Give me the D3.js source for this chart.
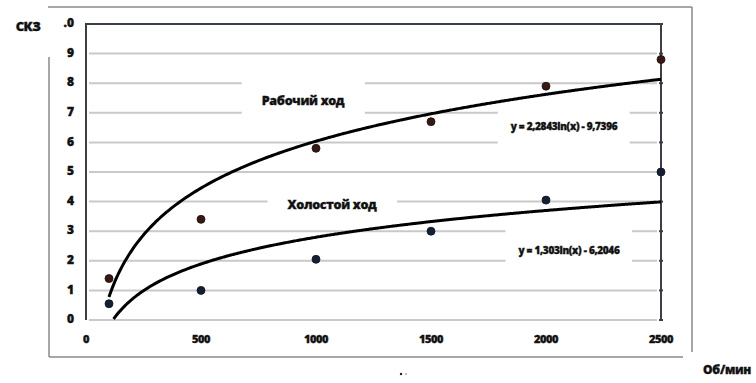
<!DOCTYPE html>
<html>
<head>
<meta charset="utf-8">
<script src="https://cdn.jsdelivr.net/npm/d3@7"></script>
<style>
  body { margin: 0; background: #fff; }
  svg { display: block; }
  text { font-family: "Open Sans", "DejaVu Sans", sans-serif; font-weight: 800; fill: #111; stroke: #111; stroke-width: 0.35px; }
</style>
</head>
<body>
<svg id="chart" width="756" height="383"></svg>
<script>

// measured points (Об/мин -> СКЗ)
var rpm = [100, 500, 1000, 1500, 2000, 2500];
var workValues = [1.4, 3.4, 5.8, 6.7, 7.9, 8.8];
var idleValues = [0.55, 1.0, 2.05, 3.0, 4.05, 5.0];

// log trendlines as printed on the chart: y = a*ln(x) + b
var workTrend = [2.2843, -9.7396];
var idleTrend = [1.303, -6.2046];

var xTicks = [0, 500, 1000, 1500, 2000, 2500];
var yTicks = [0, 1, 2, 3, 4, 5, 6, 7, 8, 9, 10];
var yTickLabels = ["0", "1", "2", "3", "4", "5", "6", "7", "8", "9", ".0"];

var svg = d3.select("#chart");
var margin = {left: 86, right: 95, top: 24, bottom: 63};
var width = 756 - margin.left - margin.right,
    height = 383 - margin.top - margin.bottom;

var x = d3.scaleLinear().domain([0, 2500]).range([margin.left, margin.left + width]);
var y = d3.scaleLinear().domain([0, 10]).range([margin.top + height, margin.top]);

// outer frame
var frame = svg.append("g").attr("stroke", "#8a8a8a").attr("stroke-width", 1.5);
frame.append("line").attr("x1", 48).attr("x2", 692).attr("y1", 7).attr("y2", 7);
frame.append("line").attr("x1", 692).attr("x2", 692).attr("y1", 7).attr("y2", 352);
frame.append("line").attr("x1", 49).attr("x2", 49).attr("y1", 57).attr("y2", 357);
frame.append("line").attr("x1", 49).attr("x2", 683).attr("y1", 357).attr("y2", 357);

// gridlines
svg.append("g")
    .selectAll("line")
    .data(yTicks.slice(0, -1))
    .join("line")
        .attr("x1", x(0) + 3)
        .attr("x2", x(2500) - 4)
        .attr("y1", d => y(d))
        .attr("y2", d => y(d))
        .attr("stroke", "#c9c9c9")
        .attr("stroke-width", 2);

// white boxes behind the in-plot labels
function label(txt, cx, cy, size, padW) {
    var t = svg.append("text")
        .attr("x", cx).attr("y", cy)
        .attr("text-anchor", "middle")
        .attr("dominant-baseline", "middle")
        .attr("font-size", size)
        .attr("letter-spacing", "-0.3")
        .text(txt);
    var bb = t.node().getBBox();
    svg.insert("rect", "text")
        .attr("x", bb.x - padW).attr("y", bb.y - 14)
        .attr("width", bb.width + 2 * padW).attr("height", bb.height + 28)
        .attr("fill", "#fff");
}

// plot box (left, top, right)
var box = svg.append("g").attr("stroke", "#3a3f47").attr("stroke-width", 2).attr("fill", "none");
box.append("path")
    .attr("d", "M" + x(0) + "," + y(0) + "V" + y(10) + "H" + x(2500) + "V" + y(0));
box.selectAll(".rt")
    .data(yTicks)
    .join("line")
        .attr("x1", x(2500) - 2).attr("x2", x(2500) + 2)
        .attr("y1", d => y(d)).attr("y2", d => y(d));

// trendlines
function trendPts(c, xmin) {
    var pts = [];
    for (var v = xmin; v <= 2500; v += 10) {
        var yy = c[0] * Math.log(v) + c[1];
        if (yy >= 0) pts.push([v, yy]);
    }
    return pts;
}
var line = d3.line().x(d => x(d[0])).y(d => y(d[1])).curve(d3.curveMonotoneX);

label("Рабочий ход", 303, 102, 12.5, 20);
label("Холостой ход", 332, 206, 12.5, 20);
label("y = 2,2843ln(x) - 9,7396", 564, 127, 10, 12);
label("y = 1,303ln(x) - 6,2046", 569, 251, 10, 12);

svg.append("path")
    .datum(trendPts(workTrend, 100))
    .attr("d", line)
    .attr("fill", "none").attr("stroke", "#000").attr("stroke-width", 3);
svg.append("path")
    .datum(trendPts(idleTrend, 100))
    .attr("d", line)
    .attr("fill", "none").attr("stroke", "#000").attr("stroke-width", 3);

// points
svg.append("g")
    .selectAll("circle")
    .data(d3.zip(rpm, workValues))
    .join("circle")
        .attr("cx", d => x(d[0])).attr("cy", d => y(d[1]))
        .attr("r", 4).attr("fill", "#3b1710").attr("stroke", "#111").attr("stroke-width", 0.8);
svg.append("g")
    .selectAll("circle")
    .data(d3.zip(rpm, idleValues))
    .join("circle")
        .attr("cx", d => x(d[0])).attr("cy", d => y(d[1]))
        .attr("r", 4).attr("fill", "#112036").attr("stroke", "#111").attr("stroke-width", 0.8);

// tick labels
svg.append("g")
    .selectAll("text")
    .data(yTicks)
    .join("text")
        .attr("x", 74)
        .attr("y", d => y(d))
        .attr("text-anchor", "end")
        .attr("dominant-baseline", "middle")
        .attr("font-size", 12)
        .text((d, i) => yTickLabels[i]);

svg.append("g")
    .selectAll("text")
    .data(xTicks)
    .join("text")
        .attr("x", d => x(d))
        .attr("y", 340)
        .attr("text-anchor", "middle")
        .attr("dominant-baseline", "middle")
        .attr("font-size", 11)
        .attr("letter-spacing", "-0.5")
        .text(d => d);

svg.append("text")
    .attr("x", 28).attr("y", 28)
    .attr("text-anchor", "middle")
    .attr("dominant-baseline", "middle")
    .attr("font-size", 13)
    .attr("letter-spacing", "-0.5")
    .text("СКЗ");

svg.append("text")
    .attr("x", 727).attr("y", 371)
    .attr("text-anchor", "middle")
    .attr("dominant-baseline", "middle")
    .attr("font-size", 12)
    .attr("letter-spacing", "-0.3")
    .text("Об/мин");

// stray specks near the bottom
svg.append("circle").attr("cx", 401).attr("cy", 374).attr("r", 1.2).attr("fill", "#222");
svg.append("circle").attr("cx", 406).attr("cy", 374).attr("r", 1).attr("fill", "#aaa");

</script>
</body>
</html>
